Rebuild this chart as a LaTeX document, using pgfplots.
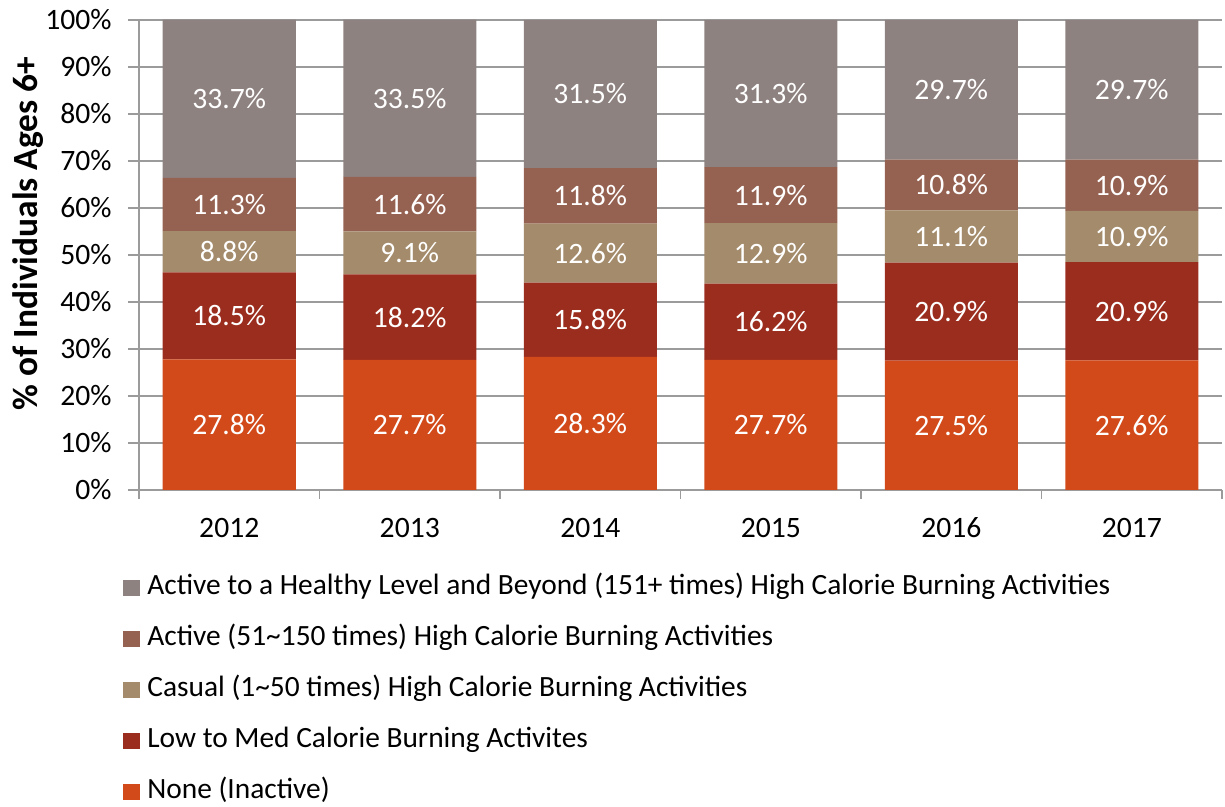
\documentclass[border=0pt]{standalone}
\usepackage{pgfplots}
\usepackage{pgfplotstable}
\pgfplotsset{compat=1.18}
\usepackage{fontspec}
\setmainfont{Carlito}
\definecolor{cHealthy}{RGB}{142,130,128}
\definecolor{cActive}{RGB}{149,97,81}
\definecolor{cCasual}{RGB}{163,139,107}
\definecolor{cLow}{RGB}{155,45,31}
\definecolor{cNone}{RGB}{210,74,26}
\definecolor{gridgray}{RGB}{155,155,155}
\pgfplotstableread{
x none low casual active healthy
0 27.8 18.5 8.8 11.3 33.7
1 27.7 18.2 9.1 11.6 33.5
2 28.3 15.8 12.6 11.8 31.5
3 27.7 16.2 12.9 11.9 31.3
4 27.5 20.9 11.1 10.8 29.7
5 27.6 20.9 10.9 10.9 29.7
}\data
\newcommand{\chartfont}{\fontsize{14.8}{17.5}\selectfont}
\pgfplotsset{
  seg/.style={
    fill=#1, draw=none,
  },
  lbl/.style={
    visualization depends on={rawy\as\h},
    nodes near coords={\pgfmathprintnumber[fixed,fixed zerofill,precision=1,assume math mode=true]{\h}\%},
    every node near coord/.style={anchor=center, text=white, font=\chartfont},
  },
}
\begin{document}
\begin{tikzpicture}
\path[use as bounding box] (-69.5pt,-158.5pt) rectangle (543pt,245pt);
\begin{axis}[
  scale only axis,
  width=541.5pt, height=235pt,
  ybar stacked, bar width=66.5pt,
  xmin=-0.5, xmax=5.5, ymin=0, ymax=100,
  clip=false,
  axis lines=left,
  axis line style={draw=gridgray, line width=0.9pt, -},
  xtick={0,...,5},
  xticklabels={2012,2013,2014,2015,2016,2017},
  major x tick style={draw=none},
  minor xtick={-0.5,0.5,...,5.5},
  minor x tick style={draw=gridgray, line width=0.9pt},
  ytick={0,10,...,100},
  yticklabels={0\%,10\%,20\%,30\%,40\%,50\%,60\%,70\%,80\%,90\%,100\%},
  ytick style={draw=gridgray, line width=0.9pt},
  tick align=outside,
  major tick length=5.5pt, minor tick length=4.5pt,
  ymajorgrids,
  major grid style={draw=gridgray, line width=0.8pt},
  tick label style={font=\chartfont},
  xticklabel style={anchor=center, yshift=-13.5pt},
  yticklabel style={anchor=east, inner sep=0pt, xshift=-8pt},
  ylabel={\textbf{\% of Individuals Ages 6+}},
  ylabel style={at={(axis description cs:-0.1025,0.5457)}, anchor=center, font=\fontsize{17.7}{20}\selectfont},
  legend style={
    at={(axis description cs:-0.0148,-0.1790)}, anchor=north west,
    draw=none, fill=none, inner sep=0pt, row sep=12.55pt,
    nodes={inner sep=0pt, text height=10pt, text depth=3pt},
    font=\fontsize{14.7}{17.5}\selectfont,
    /tikz/every odd column/.append style={column sep=3.5pt},
  },
  legend cell align=left,
  reverse legend,
  legend image code/.code={\path[#1,draw=none] (0pt,-4pt) rectangle (8.5pt,4pt);},
]
\addplot[seg=cNone, lbl] table[x=x,y=none]{\data};
\addplot[seg=cLow, lbl] table[x=x,y=low]{\data};
\addplot[seg=cCasual, lbl] table[x=x,y=casual]{\data};
\addplot[seg=cActive, lbl] table[x=x,y=active]{\data};
\addplot[seg=cHealthy, lbl] table[x=x,y=healthy]{\data};
\legend{None (Inactive),Low to Med Calorie Burning Activites,Casual (1\textasciitilde 50 times) High Calorie Burning Activities,Active (51\textasciitilde 150 times) High Calorie Burning Activities,Active to a Healthy Level and Beyond (151+ times) High Calorie Burning Activities}
\end{axis}
\end{tikzpicture}
\end{document}
